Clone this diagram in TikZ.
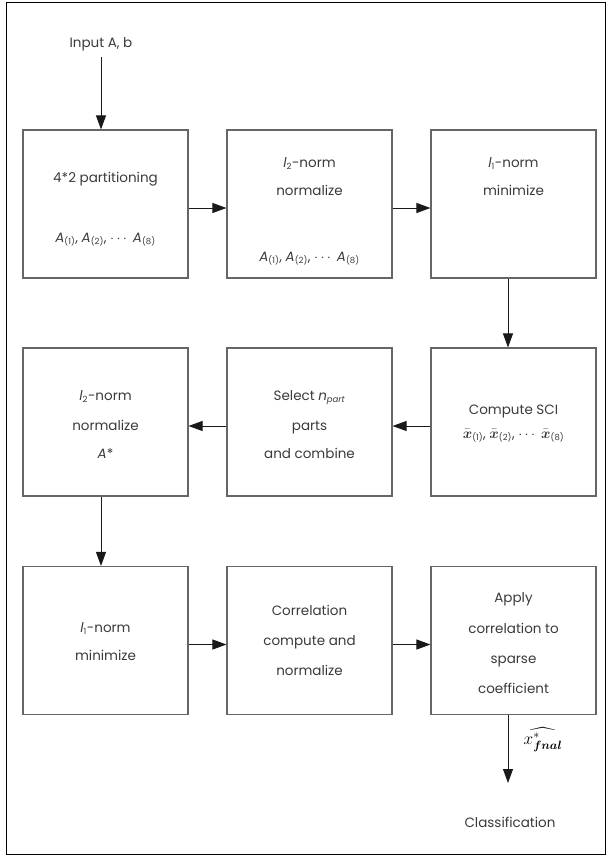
\documentclass[tikz,border=0pt]{standalone}
\usepackage{amsmath}
\usepackage{fontspec}
\setmainfont{Poppins}
\usetikzlibrary{arrows.meta,positioning}
\definecolor{txt}{HTML}{3A3A3A}
\definecolor{edge}{HTML}{666666}
\tikzset{
  stepbox/.style={draw=edge,line width=1.1pt,minimum width=165pt,minimum height=148pt,inner sep=0pt},
  lbl/.style={text=txt,font=\fontsize{13.5}{15}\selectfont,inner sep=0pt,anchor=base},
  conn/.style={line width=0.9pt,draw=black!90,-{Triangle[length=14pt,width=10pt]}}
}
\newcommand{\Sb}[1]{\textsubscript{\fontsize{8.5}{9}\selectfont #1}}
\newcommand{\Asub}[1]{\textit{A}\Sb{(#1)}}
\newcommand{\Xsub}[1]{$\bar{\boldsymbol{x}}$\Sb{(#1)}}
\begin{document}
\begin{tikzpicture}[x=1pt,y=-1pt]
\draw[line width=0.9pt] (6.5,2) rectangle (605,854.5);
\useasboundingbox (0,0) rectangle (606,857);
% boxes
\node[stepbox] (b1) at (105.5,204) {};
\node[stepbox] (b2) at (309.5,204) {};
\node[stepbox] (b3) at (513.5,204) {};
\node[stepbox] (b4) at (105.5,422) {};
\node[stepbox] (b5) at (309.5,422) {};
\node[stepbox] (b6) at (513.5,422) {};
\node[stepbox] (b7) at (105.5,640.5) {};
\node[stepbox] (b8) at (309.5,640.5) {};
\node[stepbox] (b9) at (513.5,640.5) {};
% texts
\node[lbl] (in) at (101,47) {Input A, b};
\node[lbl] (t1a) at (105.5,182) {4*2 partitioning};
\node[lbl] (t1b) at (105.5,242) {\Asub{1}, \Asub{2}, $\cdots$ \Asub{8}};
\node[lbl] (t2a) at (309.5,167) {\textit{l}\Sb{2}-norm};
\node[lbl] (t2b) at (309.5,195) {normalize};
\node[lbl] (t2c) at (309.5,261) {\Asub{1}, \Asub{2}, $\cdots$ \Asub{8}};
\node[lbl] (t3a) at (513.5,167) {\textit{l}\Sb{1}-norm};
\node[lbl] (t3b) at (513.5,195) {minimize};
\node[lbl] (t4a) at (105.5,400) {\textit{l}\Sb{2}-norm};
\node[lbl] (t4b) at (105.5,430) {normalize};
\node[lbl] (t4c) at (105.5,458) {\textit{A}*};
\node[lbl] (t5a) at (309.5,400) {Select \textit{n}\Sb{\textit{part}}};
\node[lbl] (t5b) at (309.5,430) {parts};
\node[lbl] (t5c) at (309.5,458) {and combine};
\node[lbl] (t6a) at (513.5,414) {Compute SCI};
\node[lbl] (t6b) at (513.5,438) {\Xsub{1}, \Xsub{2}, $\cdots$ \Xsub{8}};
\node[lbl] (t7a) at (105.5,632) {\textit{l}\Sb{1}-norm};
\node[lbl] (t7b) at (105.5,660) {minimize};
\node[lbl] (t8a) at (309.5,615) {Correlation};
\node[lbl] (t8b) at (309.5,645) {compute and};
\node[lbl] (t8c) at (309.5,675) {normalize};
\node[lbl] (t9a) at (513.5,602) {Apply};
\node[lbl] (t9b) at (513.5,633) {correlation to};
\node[lbl] (t9c) at (513.5,663) {sparse};
\node[lbl] (t9d) at (513.5,693) {coefficient};
\node[lbl] (cls) at (510,827) {Classification};
\coordinate (end) at (508,783);
\node[inner sep=0pt] (hat) at (543,740) {\fontsize{17}{19}\selectfont$\widehat{x^{*}_{\boldsymbol{fnal}}}$};
% connectors
\draw[conn] (101,57) -- ([xshift=-4.5pt]b1.north);
\draw[conn] ([yshift=-4pt]b1.east) -- ([yshift=-4pt]b2.west);
\draw[conn] ([yshift=-4pt]b2.east) -- ([yshift=-4pt]b3.west);
\draw[conn] ([xshift=-5.5pt]b3.south) -- ([xshift=-5.5pt]b6.north);
\draw[conn] ([yshift=-4pt]b6.west) -- ([yshift=-4pt]b5.east);
\draw[conn] ([yshift=-4pt]b5.west) -- ([yshift=-4pt]b4.east);
\draw[conn] ([xshift=-4.5pt]b4.south) -- ([xshift=-4.5pt]b7.north);
\draw[conn] ([yshift=-4pt]b7.east) -- ([yshift=-4pt]b8.west);
\draw[conn] ([yshift=-4pt]b8.east) -- ([yshift=-4pt]b9.west);
\draw[conn] ([xshift=-5.5pt]b9.south) -- (end);
\end{tikzpicture}
\end{document}
